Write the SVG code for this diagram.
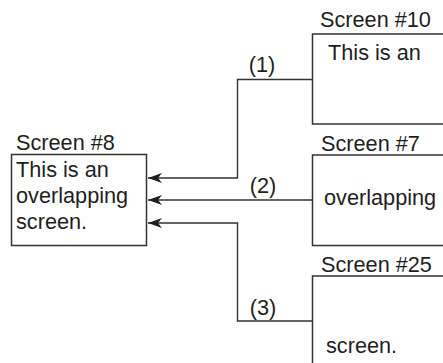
<svg xmlns="http://www.w3.org/2000/svg" width="443" height="363" viewBox="0 0 443 363">
  <style>
    text { font-family: "Liberation Sans", Arial, sans-serif; font-size: 21.7px; fill: #1e1e1e; }
    .box { fill: #fff; stroke: #333; stroke-width: 1.5; }
    .conn { fill: none; stroke: #333; stroke-width: 1.4; }
    .lbl { text-anchor: middle; }
  </style>
  <defs>
    <marker id="arr" viewBox="0 0 14 10" refX="14" refY="5" markerWidth="14" markerHeight="10" markerUnits="userSpaceOnUse" orient="auto">
      <path d="M0,0 L14,5 L0,10 L4,5 Z" fill="#1e1e1e"/>
    </marker>
  </defs>
  <rect width="443" height="363" fill="#fff"/>
  <g id="connectors">
    <path class="conn" d="M312.5,79.5 H237.5 V178 H148" marker-end="url(#arr)"/>
    <path class="conn" d="M312.5,200 H148" marker-end="url(#arr)"/>
    <path class="conn" d="M312.5,321 H237.5 V223 H148" marker-end="url(#arr)"/>
    <text class="lbl" x="262" y="72">(1)</text>
    <text class="lbl" x="263" y="193">(2)</text>
    <text class="lbl" x="263" y="315">(3)</text>
  </g>
  <g id="screen8">
    <text x="16" y="150">Screen #8</text>
    <rect class="box" x="11.5" y="154.5" width="135" height="91"/>
    <text x="16" y="177">This is an</text>
    <text x="16" y="203">overlapping</text>
    <text x="16" y="229">screen.</text>
  </g>
  <g id="screen10">
    <text x="320" y="27">Screen #10</text>
    <rect class="box" x="312.5" y="34" width="200" height="90"/>
    <text x="328" y="60">This is an</text>
  </g>
  <g id="screen7">
    <text x="321" y="150.5">Screen #7</text>
    <rect class="box" x="312.5" y="155" width="200" height="90.5"/>
    <text x="324" y="205">overlapping</text>
  </g>
  <g id="screen25">
    <text x="321" y="271.5">Screen #25</text>
    <rect class="box" x="312.5" y="276" width="200" height="120"/>
    <text x="326" y="353">screen.</text>
  </g>
</svg>
